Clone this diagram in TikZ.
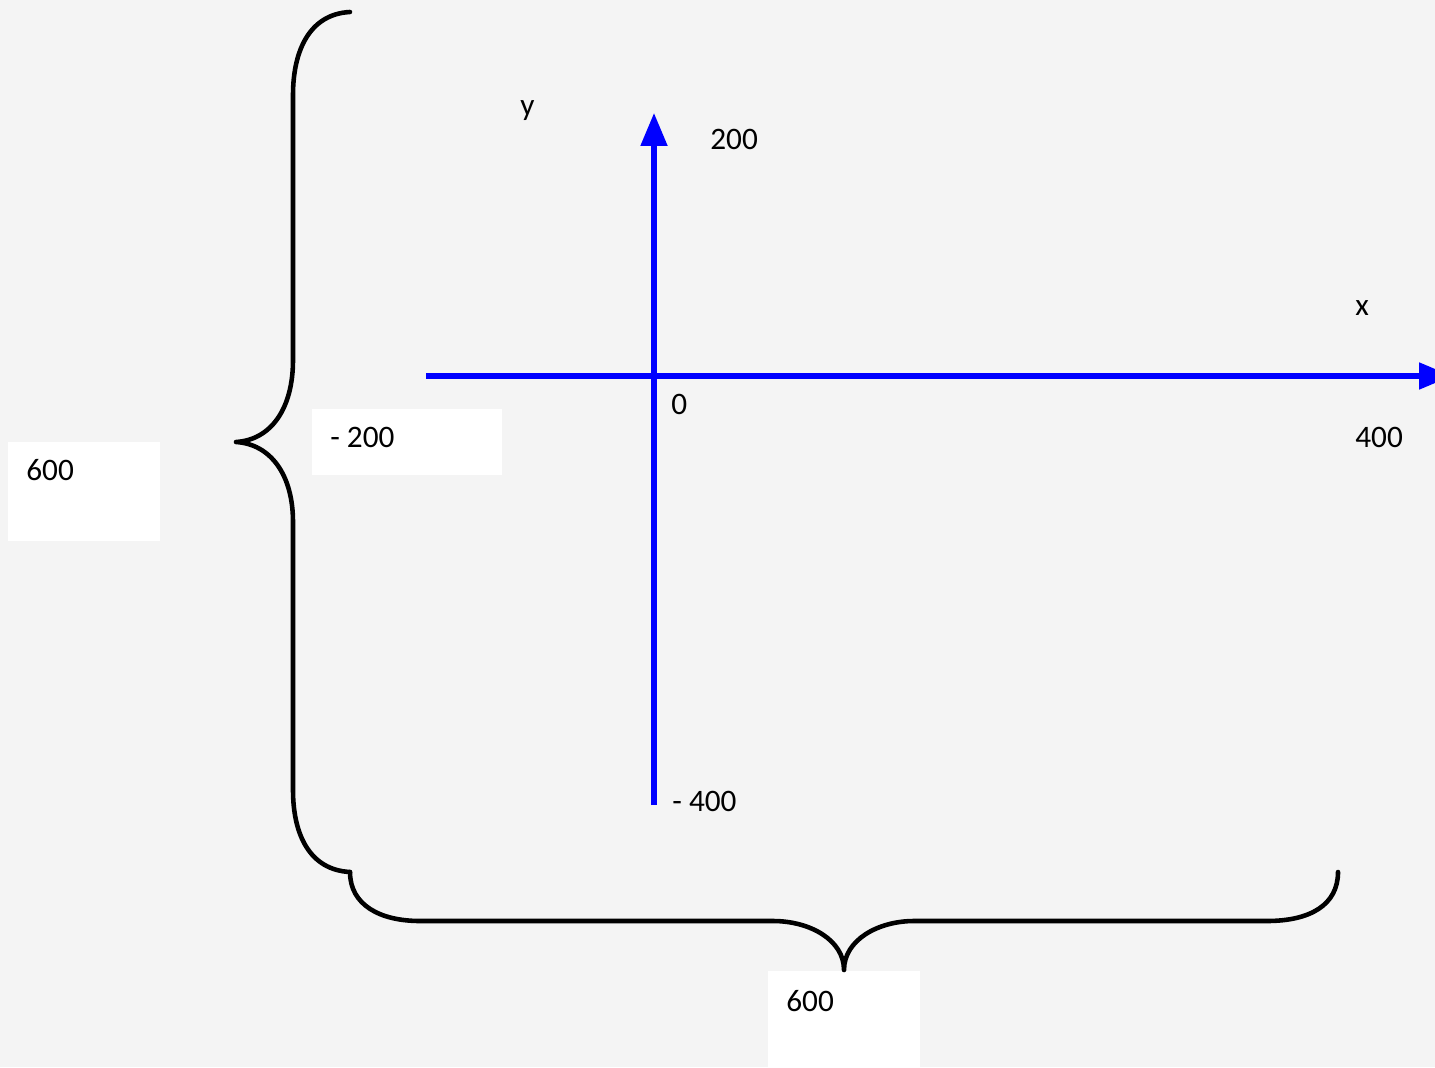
\documentclass[tikz,border=0pt]{standalone}
\usepackage{fontspec}
\setmainfont{Carlito}
\usetikzlibrary{arrows.meta}
\definecolor{bggray}{HTML}{F4F4F4}
\tikzset{
  lbl/.style={anchor=base west,inner sep=0pt,font=\fontsize{17.8}{21}\selectfont},
  axis/.style={blue,line width=2.9pt,-{Triangle[length=0.66cm,width=0.52cm]}},
  brace/.style={black,line width=2.6pt,line cap=round,line join=round},
  whitebox/.style={fill=white,draw=none}
}
\begin{document}
\begin{tikzpicture}[x=0.02cm,y=-0.02cm]
\useasboundingbox (0,0) rectangle (1435,1067);
\clip (0,0) rectangle (1435,1067);
\fill[bggray] (0,0) rectangle (1435,1067);
% white label boxes
\fill[whitebox] (312,409) rectangle (502,475);
\fill[whitebox] (8,442) rectangle (160,541);
\fill[whitebox] (768,971) rectangle (920,1067);
% axes
\coordinate (xstart) at (426,376);
\coordinate (xend) at (1452,376);
\coordinate (ystart) at (654,805);
\coordinate (yend) at (654,113);
\draw[axis] (xstart) -- (xend);
\draw[axis] (ystart) -- (yend);
% braces
\draw[brace] (350,12) .. controls (310,14) and (293,50) .. (293,95)
  -- (293,360) .. controls (293,410) and (270,440) .. (236,442)
  .. controls (270,444) and (293,474) .. (293,522)
  -- (293,790) .. controls (293,835) and (310,870) .. (350,872);
\draw[brace] (350,872) .. controls (350,905) and (380,921) .. (420,921)
  -- (773,921) .. controls (810,921) and (844,940) .. (844,970)
  .. controls (844,940) and (878,921) .. (914,921)
  -- (1267,921) .. controls (1310,921) and (1338,905) .. (1338,872);
% labels
\node[lbl] (ylbl) at (520,116) {y};
\node[lbl] (ytop) at (710,150) {200};
\node[lbl] (xlbl) at (1355,316) {x};
\node[lbl] (orig) at (671,414) {0};
\node[lbl] (xright) at (1355,447) {400};
\node[lbl] (xleft) at (330,447) {- 200};
\node[lbl] (height) at (26,480) {600};
\node[lbl] (ybottom) at (672,811) {- 400};
\node[lbl] (width) at (786,1011) {600};
\end{tikzpicture}
\end{document}
